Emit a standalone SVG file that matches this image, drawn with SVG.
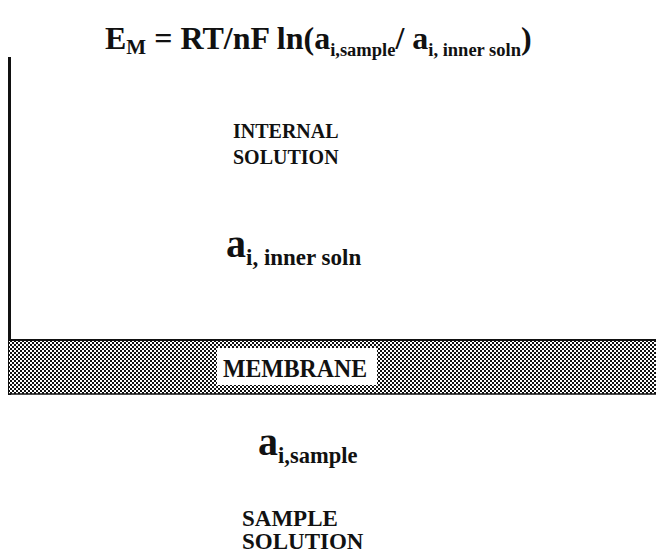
<svg xmlns="http://www.w3.org/2000/svg" width="656" height="553" viewBox="0 0 656 553">
<defs>
<pattern id="dots" width="4" height="4" patternUnits="userSpaceOnUse">
<rect width="4" height="4" fill="#111"/>
<rect x="0" y="0" width="2" height="2" fill="#fff"/>
<rect x="2" y="2" width="2" height="2" fill="#fff"/>
</pattern>
</defs>
<style>
text{font-family:"Liberation Serif","Times New Roman","DejaVu Serif",serif;font-weight:bold;fill:#111}
.lbl{font-size:20px}
.sub{font-size:23px}
.tsub{font-size:18.5px}
</style>
<rect width="656" height="553" fill="#fff"/>
<g id="equation">
<text x="105" y="49" font-size="32">E<tspan font-size="21" dy="5">M</tspan><tspan dy="-5"> = RT/nF ln(a</tspan><tspan class="tsub" dy="7">i,sample</tspan><tspan dy="-7">/ a</tspan><tspan class="tsub" dy="7">i, inner soln</tspan><tspan dy="-7">)</tspan></text>
</g>
<g id="electrode">
<line x1="9.5" y1="57" x2="9.5" y2="395" stroke="#111" stroke-width="3"/>
</g>
<g id="internal-solution">
<text class="lbl" x="233" y="138">INTERNAL</text>
<text class="lbl" x="233" y="164">SOLUTION</text>
<text x="226" y="257" font-size="40">a<tspan class="sub" dy="8">i, inner soln</tspan></text>
</g>
<g id="membrane">
<rect x="9" y="340" width="647" height="54" fill="url(#dots)"/>
<line x1="9" y1="340" x2="656" y2="340" stroke="#111" stroke-width="2"/>
<line x1="9" y1="394" x2="656" y2="394" stroke="#111" stroke-width="1.5"/>
<rect x="217" y="348" width="160" height="37" fill="#fff"/>
<text x="223" y="377" font-size="26" textLength="144" lengthAdjust="spacingAndGlyphs">MEMBRANE</text>
</g>
<g id="sample-solution">
<text x="258" y="455" font-size="40">a<tspan font-size="22.5" dy="8">i,sample</tspan></text>
<text x="242" y="526" font-size="23">SAMPLE</text>
<text x="242" y="549" font-size="23">SOLUTION</text>
</g>
</svg>
